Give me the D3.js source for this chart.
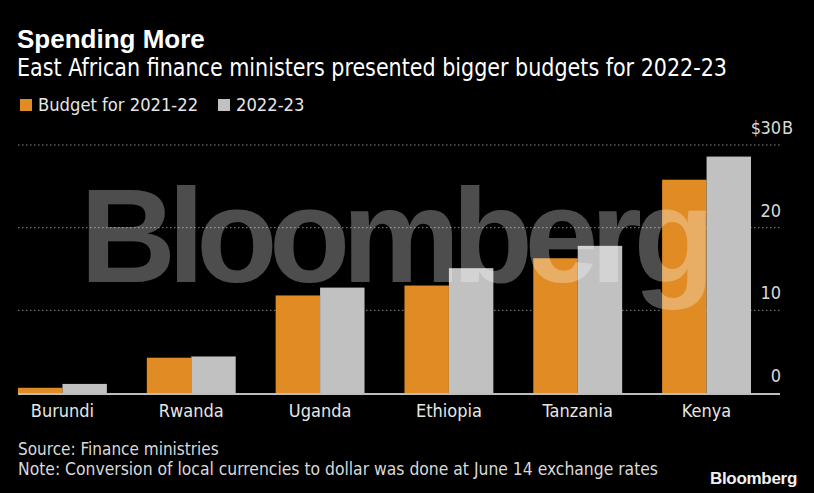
<!DOCTYPE html>
<html>
  <head>
  <title>Spending More</title>
  <style>
    body, html {
      margin: 0;
      padding: 0;
      background: #000;
    }
    #svg {
      display: block;
    }
    .narrow {
      font-family: "Liberation Sans Narrow", "DejaVu Sans Condensed", "Roboto Condensed", sans-serif;
    }
  </style>
  </head>
  <body>

  <svg id="svg" width="814" height="493"></svg>
  <script src="https://d3js.org/d3.v7.min.js"></script>
  <script>
      const countries = ["Burundi", "Rwanda", "Uganda", "Ethiopia", "Tanzania", "Kenya"]
      const budget2122 = [0.63, 4.27, 11.8, 13.0, 16.3, 25.8]
      const budget2223 = [1.1, 4.42, 12.75, 15.1, 17.8, 28.6]
      const seriesNames = ["Budget for 2021-22", "2022-23"]
      const yTicks = [0, 10, 20, 30]

      const width = 814
      const height = 493
      const orange = "#e08b24"
      const grey = "#c1c1c1"

      const svg = d3.select("#svg")
      svg.append("rect").attr("width", width).attr("height", height).attr("fill", "#000")

      const x = d3.scaleBand()
          .domain(countries)
          .range([18, 751])
          .paddingInner(0.31)
          .paddingOuter(0)
      const sub = d3.scaleBand()
          .domain([0, 1])
          .range([0, x.bandwidth()])
      const y = d3.scaleLinear()
          .domain([0, 30])
          .range([393, 145])

      // title block
      svg.append("text")
          .attr("x", 17).attr("y", 48)
          .attr("font-family", "Liberation Sans, Arial, sans-serif")
          .attr("font-weight", "bold")
          .attr("font-size", 26)
          .attr("fill", "#fff")
          .text("Spending More")
      svg.append("text")
          .attr("class", "narrow")
          .attr("x", 17).attr("y", 76)
          .attr("font-size", 25)
          .attr("textLength", 710)
          .attr("lengthAdjust", "spacingAndGlyphs")
          .attr("fill", "#fff")
          .text("East African finance ministers presented bigger budgets for 2022-23")

      // legend
      const legend = svg.append("g")
      const legendX = [20, 218]
      seriesNames.forEach((name, i) => {
        legend.append("rect")
            .attr("x", legendX[i]).attr("y", 99)
            .attr("width", 12).attr("height", 12)
            .attr("fill", i === 0 ? orange : grey)
        legend.append("text")
            .attr("class", "narrow")
            .attr("x", legendX[i] + 18).attr("y", 111)
            .attr("font-size", 18.2)
            .attr("fill", "#e6e6e6")
            .text(name)
      })

      // grid lines + tick labels
      svg.append("g")
          .selectAll("line")
          .data(yTicks.filter(d => d > 0))
          .join("line")
          .attr("x1", 18).attr("x2", 780)
          .attr("y1", d => y(d)).attr("y2", d => y(d))
          .attr("stroke", "#8a8a8a")
          .attr("stroke-width", 1)
          .attr("stroke-dasharray", "1.5,2.5")

      const tickG = svg.append("g")
          .attr("class", "narrow")
          .attr("font-size", 18)
          .attr("fill", "#d9d9d9")
      tickG.selectAll("text.num")
          .data(yTicks)
          .join("text")
          .attr("class", "num")
          .attr("x", 781)
          .attr("y", d => y(d) - 11)
          .attr("text-anchor", "end")
          .text(d => d)
      tickG.append("text")
          .attr("x", 782)
          .attr("y", y(30) - 11)
          .text("B")
      tickG.append("text")
          .attr("x", 761)
          .attr("y", y(30) - 11)
          .attr("text-anchor", "end")
          .text("$")

      // bars
      const groups = svg.append("g")
          .selectAll("g")
          .data(countries.map((c, i) => ({ c, vals: [budget2122[i], budget2223[i]] })))
          .join("g")
          .attr("transform", d => `translate(${x(d.c)},0)`)
      groups.selectAll("rect")
          .data(d => d.vals)
          .join("rect")
          .attr("x", (d, i) => sub(i))
          .attr("width", sub.bandwidth())
          .attr("y", d => y(d))
          .attr("height", d => y(0) - y(d))
          .attr("fill", (d, i) => i === 0 ? orange : grey)

      // baseline
      svg.append("line")
          .attr("x1", 18).attr("x2", 780)
          .attr("y1", y(0) + 1).attr("y2", y(0) + 1)
          .attr("stroke", "#bdbdbd")
          .attr("stroke-width", 2)

      // category labels
      svg.append("g")
          .selectAll("text")
          .data(countries)
          .join("text")
          .attr("class", "narrow")
          .attr("x", d => x(d) + x.bandwidth() / 2)
          .attr("y", 417)
          .attr("text-anchor", "middle")
          .attr("font-size", 18)
          .attr("fill", "#e6e6e6")
          .text(d => d)

      // watermark
      svg.append("text")
          .attr("x", 80).attr("y", 282)
          .attr("font-family", "Liberation Sans, Arial, sans-serif")
          .attr("font-weight", "bold")
          .attr("font-size", 133)
          .attr("letter-spacing", -8.4)
          .attr("fill", "#fff")
          .attr("fill-opacity", 0.3)
          .text("Bloomberg")

      // footer
      svg.append("text")
          .attr("class", "narrow")
          .attr("x", 18).attr("y", 455)
          .attr("font-size", 17)
          .attr("fill", "#d9d9d9")
          .text("Source: Finance ministries")
      svg.append("text")
          .attr("class", "narrow")
          .attr("x", 18).attr("y", 475)
          .attr("font-size", 17)
          .attr("textLength", 640)
          .attr("lengthAdjust", "spacingAndGlyphs")
          .attr("fill", "#d9d9d9")
          .text("Note: Conversion of local currencies to dollar was done at June 14 exchange rates")
      svg.append("text")
          .attr("x", 797).attr("y", 484)
          .attr("text-anchor", "end")
          .attr("font-family", "Liberation Sans, Arial, sans-serif")
          .attr("font-weight", "bold")
          .attr("font-size", 17)
          .attr("letter-spacing", -0.3)
          .attr("fill", "#f0f0f0")
          .text("Bloomberg")
  </script>
</body>
</html>
